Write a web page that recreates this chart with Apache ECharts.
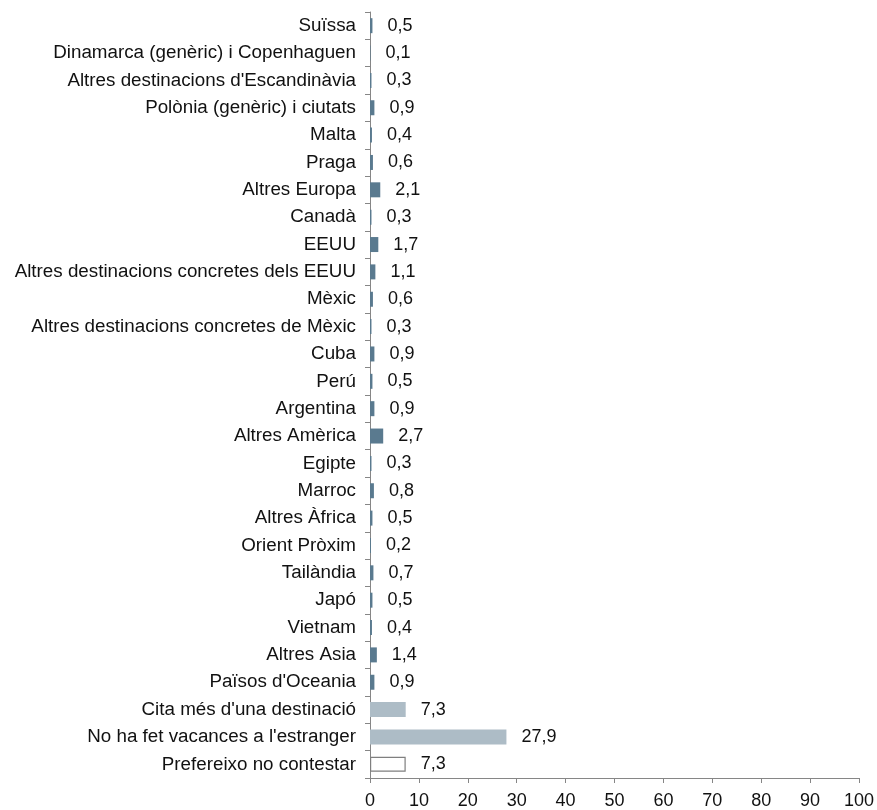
<!DOCTYPE html>
<html>
<head>
<meta charset="utf-8">
<script src="https://cdn.jsdelivr.net/npm/echarts@6/dist/echarts.min.js"></script>
<style>
  html, body { margin: 0; padding: 0; background: #fff; }
  #chart { width: 877px; height: 810px; }
</style>
</head>
<body>
<div id="chart"></div>
<script>
// Destinations, top to bottom
const categories = [
  "Suïssa",
  "Dinamarca (genèric) i Copenhaguen",
  "Altres destinacions d'Escandinàvia",
  "Polònia (genèric) i ciutats",
  "Malta",
  "Praga",
  "Altres Europa",
  "Canadà",
  "EEUU",
  "Altres destinacions concretes dels EEUU",
  "Mèxic",
  "Altres destinacions concretes de Mèxic",
  "Cuba",
  "Perú",
  "Argentina",
  "Altres Amèrica",
  "Egipte",
  "Marroc",
  "Altres Àfrica",
  "Orient Pròxim",
  "Tailàndia",
  "Japó",
  "Vietnam",
  "Altres Asia",
  "Països d'Oceania",
  "Cita més d'una destinació",
  "No ha fet vacances a l'estranger",
  "Prefereixo no contestar"
];

// Percentages per destination
const values = [
  0.5, 0.1, 0.3, 0.9, 0.4, 0.6, 2.1, 0.3, 1.7, 1.1,
  0.6, 0.3, 0.9, 0.5, 0.9, 2.7, 0.3, 0.8, 0.5, 0.2,
  0.7, 0.5, 0.4, 1.4, 0.9, 7.3, 27.9, 7.3
];

// Bar style group per row: 0 = destination, 1 = summary, 2 = no answer
const groups = [
  0, 0, 0, 0, 0, 0, 0, 0, 0, 0,
  0, 0, 0, 0, 0, 0, 0, 0, 0, 0,
  0, 0, 0, 0, 0, 1, 1, 2
];

const xTicks = [0, 10, 20, 30, 40, 50, 60, 70, 80, 90, 100];

const styles = [
  { color: '#5a7a8f', borderColor: '#5a7a8f', borderWidth: 0 },
  { color: '#adbcc6', borderColor: '#adbcc6', borderWidth: 0 },
  { color: '#ffffff', borderColor: '#7f7f7f', borderWidth: 1.2 }
];

const data = values.map((v, i) => ({ value: v, itemStyle: styles[groups[i]] }));

const chart = echarts.init(document.getElementById('chart'), null, { renderer: 'canvas' });
chart.setOption({
  animation: false,
  backgroundColor: '#ffffff',
  textStyle: { fontFamily: 'Liberation Sans, Arial, sans-serif' },
  grid: { left: 370, right: 18, top: 12, bottom: 31, containLabel: false },
  xAxis: {
    type: 'value',
    min: xTicks[0],
    max: xTicks[xTicks.length - 1],
    interval: 10,
    splitLine: { show: false },
    axisLine: { show: true, lineStyle: { color: '#868686', width: 1 } },
    axisTick: { show: true, length: 5, lineStyle: { color: '#868686' } },
    axisLabel: { color: '#111', fontSize: 18, margin: 14 }
  },
  yAxis: {
    type: 'category',
    data: categories,
    inverse: true,
    axisLine: { show: true, lineStyle: { color: '#868686', width: 1 } },
    axisTick: { show: true, length: 5, lineStyle: { color: '#868686' } },
    axisLabel: { color: '#111', fontSize: 18.8, margin: 14 }
  },
  series: [{
    type: 'bar',
    data: data,
    barWidth: 15,
    label: {
      show: true,
      position: 'right',
      distance: 15,
      color: '#111',
      fontSize: 18,
      formatter: p => String(p.value).replace('.', ',')
    }
  }]
});
</script>
</body>
</html>
